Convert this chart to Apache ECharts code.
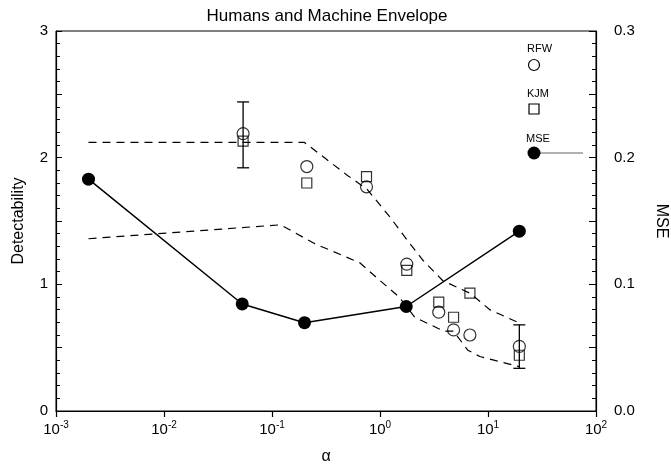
<!DOCTYPE html>
<html>
<head>
<meta charset="utf-8">
<script src="https://cdn.jsdelivr.net/npm/echarts@6/dist/echarts.min.js"></script>
<style>
html,body{margin:0;padding:0;background:#fff;}
#c{width:671px;height:469px;}
</style>
</head>
<body>
<div id="c"></div>
<script>
// ---- data ----
const mseAlpha = [0.002, 0.053, 0.2, 1.75, 19.5];
const mseValues = [0.183, 0.0845, 0.0697, 0.0825, 0.142];

const humanAlpha = [0.054, 0.21, 0.75, 1.77, 3.5, 4.8, 6.8, 19.5];
const rfwValues = [2.19, 1.93, 1.77, 1.16, 0.78, 0.64, 0.60, 0.51];
const kjmValues = [2.13, 1.80, 1.85, 1.11, 0.86, 0.74, 0.93, 0.44];

const errAlpha = [0.054, 19.5];
const errLow = [1.92, 0.337];
const errHigh = [2.44, 0.68];

const upperAlpha = [0.002, 0.2, 0.5, 0.76, 1.24, 1.78, 2.5, 3.8, 6.8, 10.4, 19.5];
const upperValues = [2.12, 2.12, 1.86, 1.75, 1.53, 1.35, 1.19, 1.03, 0.93, 0.80, 0.695];

const lowerAlpha = [0.002, 0.12, 0.25, 0.65, 1.0, 1.5, 2.1, 3.9, 4.8, 6.5, 8.4, 19.5];
const lowerValues = [1.36, 1.47, 1.32, 1.17, 1.03, 0.90, 0.74, 0.63, 0.63, 0.48, 0.43, 0.35];

const xTickExponents = [-3, -2, -1, 0, 1, 2];

const zip = (a, b) => a.map((v, i) => [v, b[i]]);
const FONT = 'Liberation Sans, Arial, Helvetica, sans-serif';

const chart = echarts.init(document.getElementById('c'), null, {renderer: 'canvas'});
chart.setOption({
  animation: false,
  backgroundColor: '#fff',
  textStyle: {fontFamily: FONT, color: '#000'},
  title: {
    text: 'Humans and Machine Envelope',
    left: 322, top: 3, textAlign: 'center',
    textStyle: {fontFamily: FONT, fontSize: 17, fontWeight: 'normal', color: '#000'}
  },
  grid: {left: 56, right: 75, top: 31, bottom: 58, show: true, borderColor: '#000', borderWidth: 1,
         containLabel: false, outerBoundsMode: 'none'},
  xAxis: {
    type: 'log', logBase: 10, min: 0.001, max: 100,
    name: 'α', nameLocation: 'middle', nameGap: 38,
    nameTextStyle: {fontFamily: FONT, fontSize: 16, color: '#000'},
    axisLine: {show: true, lineStyle: {color: '#000', width: 1.2}},
    axisTick: {show: true, inside: false, length: 6, lineStyle: {color: '#000', width: 1.2}},
    minorTick: {show: false},
    splitLine: {show: false},
    axisLabel: {
      margin: 9, color: '#000',
      formatter: function (v) {
        const e = Math.round(Math.log10(v));
        if (xTickExponents.indexOf(e) < 0) return '';
        return '{b|10}{s|' + e + '}';
      },
      rich: {
        b: {fontFamily: FONT, fontSize: 15, color: '#000', verticalAlign: 'bottom'},
        s: {fontFamily: FONT, fontSize: 10, color: '#000', verticalAlign: 'bottom', padding: [0, 0, 7, 0]}
      }
    }
  },
  yAxis: [
    {
      type: 'value', min: 0, max: 3, interval: 0.5, position: 'left',
      name: 'Detectability', nameLocation: 'middle', nameGap: 29, nameRotate: 90,
      nameTextStyle: {fontFamily: FONT, fontSize: 16, color: '#000'},
      axisLine: {show: true, lineStyle: {color: '#000', width: 1.2}},
      axisTick: {show: true, inside: true, length: 6, lineStyle: {color: '#000', width: 1}},
      minorTick: {show: true, splitNumber: 5, length: 4, lineStyle: {color: '#000', width: 1}},
      splitLine: {show: false},
      axisLabel: {
        margin: 8, color: '#000', fontFamily: FONT, fontSize: 15,
        formatter: v => (Math.abs(v - Math.round(v)) < 1e-9 ? String(Math.round(v)) : '')
      }
    },
    {
      type: 'value', min: 0, max: 0.3, interval: 0.05, position: 'right',
      name: 'MSE', nameLocation: 'middle', nameGap: 57, nameRotate: -90,
      nameTextStyle: {fontFamily: FONT, fontSize: 16, color: '#000'},
      axisLine: {show: true, lineStyle: {color: '#000', width: 1.2}},
      axisTick: {show: true, inside: true, length: 7, lineStyle: {color: '#000', width: 1}},
      minorTick: {show: true, splitNumber: 5, length: 4, lineStyle: {color: '#000', width: 1}},
      splitLine: {show: false},
      axisLabel: {
        margin: 18, color: '#000', fontFamily: FONT, fontSize: 15,
        formatter: v => {
          const t = Math.round(v * 100);
          return (t % 10 === 0) ? (t / 100).toFixed(1) : '';
        }
      }
    }
  ],
  series: [
    {
      name: 'upper envelope', type: 'line', data: zip(upperAlpha, upperValues),
      symbol: 'none', lineStyle: {color: '#000', width: 1.2, type: [8, 6]}, z: 2
    },
    {
      name: 'lower envelope', type: 'line', data: zip(lowerAlpha, lowerValues),
      symbol: 'none', lineStyle: {color: '#000', width: 1.2, type: [8, 6]}, z: 2
    },
    {
      name: 'error', type: 'custom', z: 3,
      data: errAlpha.map((a, i) => [a, errLow[i], errHigh[i]]),
      renderItem: function (params, api) {
        const lo = api.coord([api.value(0), api.value(1)]);
        const hi = api.coord([api.value(0), api.value(2)]);
        const w = 6;
        const st = {stroke: '#000', lineWidth: 1.3};
        return {
          type: 'group', children: [
            {type: 'line', shape: {x1: hi[0], y1: hi[1], x2: lo[0], y2: lo[1]}, style: st},
            {type: 'line', shape: {x1: hi[0] - w, y1: hi[1], x2: hi[0] + w, y2: hi[1]}, style: st},
            {type: 'line', shape: {x1: lo[0] - w, y1: lo[1], x2: lo[0] + w, y2: lo[1]}, style: st}
          ]
        };
      }
    },
    {
      name: 'KJM', type: 'scatter', data: zip(humanAlpha, kjmValues),
      symbol: 'rect', symbolSize: 10,
      itemStyle: {color: 'rgba(0,0,0,0)', borderColor: '#000', borderWidth: 1.2}, z: 4
    },
    {
      name: 'RFW', type: 'scatter', data: zip(humanAlpha, rfwValues),
      symbol: 'circle', symbolSize: 12,
      itemStyle: {color: 'rgba(0,0,0,0)', borderColor: '#000', borderWidth: 1.2}, z: 4
    },
    {
      name: 'MSE', type: 'line', yAxisIndex: 1, data: zip(mseAlpha, mseValues),
      symbol: 'circle', symbolSize: 13, showSymbol: true,
      lineStyle: {color: '#000', width: 1.5}, itemStyle: {color: '#000'}, z: 5
    }
  ],
  graphic: [
    {type: 'text', left: 527, top: 43, style: {text: 'RFW', fontFamily: FONT, fontSize: 11, fill: '#000'}},
    {type: 'circle', shape: {cx: 534, cy: 65, r: 5.5}, style: {fill: 'none', stroke: '#000', lineWidth: 1.2}},
    {type: 'text', left: 527, top: 88, style: {text: 'KJM', fontFamily: FONT, fontSize: 11, fill: '#000'}},
    {type: 'rect', shape: {x: 529, y: 104, width: 10, height: 10}, style: {fill: 'none', stroke: '#000', lineWidth: 1.2}},
    {type: 'text', left: 526, top: 133, style: {text: 'MSE', fontFamily: FONT, fontSize: 11, fill: '#000'}},
    {type: 'line', shape: {x1: 534, y1: 153, x2: 583, y2: 153}, style: {stroke: '#666', lineWidth: 1}},
    {type: 'circle', shape: {cx: 534, cy: 153, r: 6.5}, style: {fill: '#000'}}
  ]
});
</script>
</body>
</html>
